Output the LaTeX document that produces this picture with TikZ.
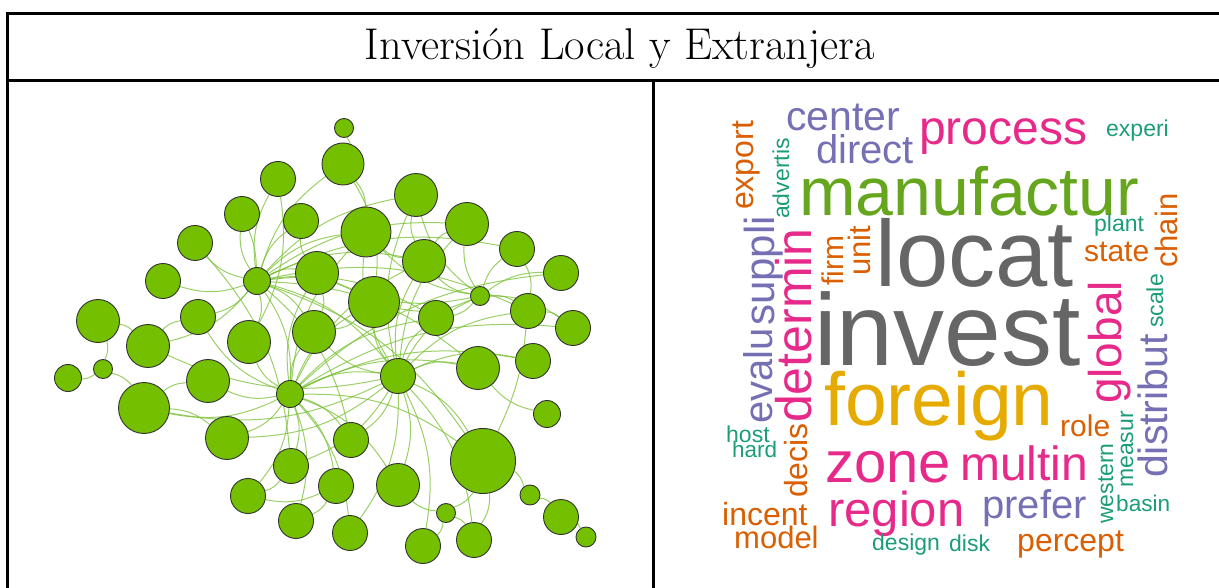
\documentclass[tikz,border=0pt]{standalone}
\usepackage{fontspec}
\usetikzlibrary{backgrounds}
\newfontfamily\cloudfont{Liberation Sans}

\definecolor{leaf}{RGB}{115,191,0}
\definecolor{twig}{RGB}{120,192,50}
\definecolor{dkgray}{HTML}{666666}
\definecolor{dkgreen}{HTML}{66A61E}
\definecolor{dkyellow}{HTML}{E6AB02}
\definecolor{dkpink}{HTML}{E7298A}
\definecolor{dkpurple}{HTML}{7570B3}
\definecolor{dkorange}{HTML}{D95F02}
\definecolor{dkteal}{HTML}{1B9E77}

\tikzset{
    bubble/.style={circle, draw=black!80, fill=leaf, line width=0.9pt, inner sep=0pt, minimum size=#1},
    tie/.style={draw=twig, line width=1pt, opacity=0.75, bend left=18},
    word/.style n args={2}{font=\cloudfont\fontsize{#1}{#1}\selectfont, text=#2, inner sep=0pt, anchor=base west},
}

\begin{document}
\begin{tikzpicture}[x=1pt, y=-1pt]
    \useasboundingbox (0,0) rectangle (1219,588);

    % Table frame
    \draw[line width=3pt] (6,13.5) -- (1230,13.5);
    \draw[line width=3pt] (7.5,12) -- (7.5,600);
    \draw[line width=3pt] (6,80.5) -- (1230,80.5);
    \draw[line width=3pt] (653.3,80.5) -- (653.3,600);
    \node[font=\fontsize{44.5}{52}\selectfont, anchor=base, inner sep=0pt] (title) at (620,60) {Inversión Local y Extranjera};

    % Network: nodes
    \node[bubble=19] (v1) at (344,128) {};
    \node[bubble=42] (v2) at (343,164) {};
    \node[bubble=35] (v3) at (278,179) {};
    \node[bubble=35] (v4) at (242,214) {};
    \node[bubble=35] (v5) at (301,221) {};
    \node[bubble=43] (v6) at (416,195) {};
    \node[bubble=50] (v7) at (366,232) {};
    \node[bubble=43] (v8) at (467,224) {};
    \node[bubble=35] (v9) at (195,243) {};
    \node[bubble=27] (v10) at (257,281) {};
    \node[bubble=43] (v11) at (317,273) {};
    \node[bubble=43] (v12) at (424,261) {};
    \node[bubble=35] (v13) at (517,249) {};
    \node[bubble=35] (v14) at (561,273) {};
    \node[bubble=35] (v15) at (163,281) {};
    \node[bubble=51] (v16) at (374,302) {};
    \node[bubble=19] (v17) at (480,296) {};
    \node[bubble=43] (v18) at (98,321) {};
    \node[bubble=35] (v19) at (198,317) {};
    \node[bubble=43] (v20) at (148,346) {};
    \node[bubble=43] (v21) at (249,342) {};
    \node[bubble=43] (v22) at (314,332) {};
    \node[bubble=35] (v23) at (436,318) {};
    \node[bubble=35] (v24) at (528,311) {};
    \node[bubble=35] (v25) at (573,328) {};
    \node[bubble=27] (v26) at (68,378) {};
    \node[bubble=19] (v27) at (103,369) {};
    \node[bubble=51] (v28) at (144,408) {};
    \node[bubble=43] (v29) at (208,381) {};
    \node[bubble=27] (v30) at (290,394) {};
    \node[bubble=35] (v31) at (398,376) {};
    \node[bubble=43] (v32) at (478,368) {};
    \node[bubble=35] (v33) at (533,361) {};
    \node[bubble=27] (v34) at (547,414) {};
    \node[bubble=43] (v35) at (227,438) {};
    \node[bubble=35] (v36) at (351,440) {};
    \node[bubble=65] (v37) at (483,461) {};
    \node[bubble=35] (v38) at (291,466) {};
    \node[bubble=35] (v39) at (336,486) {};
    \node[bubble=43] (v40) at (398,485) {};
    \node[bubble=35] (v41) at (248,496) {};
    \node[bubble=35] (v42) at (296,521) {};
    \node[bubble=35] (v43) at (350,533) {};
    \node[bubble=19] (v44) at (446,513) {};
    \node[bubble=35] (v45) at (423,546) {};
    \node[bubble=35] (v46) at (474,540) {};
    \node[bubble=20] (v47) at (530,495) {};
    \node[bubble=35] (v48) at (561,517) {};
    \node[bubble=20] (v49) at (586,537) {};

    % Network: links behind the nodes
    \begin{scope}[on background layer, every edge/.style={tie}]
        \draw (v10) edge (v4) edge[bend right=10] (v4) edge (v3) edge (v9) edge (v15) edge (v19)
            edge (v20) edge (v5) edge (v2) edge (v11) edge (v7) edge (v6) edge (v8)
            edge (v12) edge (v16) edge (v22) edge (v21) edge (v23) edge (v31) edge (v30)
            edge (v37) edge (v36) edge (v13) edge (v24) edge (v32);
        \draw (v30) edge (v29) edge (v28) edge (v35) edge (v38) edge (v21) edge (v22)
            edge (v16) edge (v12) edge (v31) edge (v37) edge (v36) edge (v39) edge (v41)
            edge (v32) edge (v23) edge (v11) edge (v7) edge (v19) edge (v40) edge (v42)
            edge (v43) edge (v14) edge (v25) edge (v33);
        \draw (v31) edge (v37) edge (v45) edge (v46) edge (v38) edge (v36) edge (v33)
            edge (v32) edge (v23) edge (v16) edge (v12) edge (v7) edge (v6) edge (v17)
            edge (v22) edge (v40) edge (v43) edge (v8) edge (v24) edge (v28) edge (v35)
            edge (v20);
        \draw (v17) edge (v13) edge (v14) edge (v24) edge (v25) edge (v12) edge (v16)
            edge (v23) edge (v7) edge (v8) edge (v6) edge (v11);
        \draw (v18) edge (v20) edge (v27);
        \draw (v27) edge (v26) edge (v28);
        \draw (v28) edge (v29) edge (v35);
        \draw (v20) edge (v19);
        \draw (v1) edge (v2);
        \draw (v37) edge (v47) edge (v44) edge (v46) edge[bend right=10] (v24);
        \draw (v47) edge (v48);
        \draw (v48) edge (v49);
        \draw (v44) edge (v45) edge (v46) edge (v40);
        \draw (v34) edge (v32);
        \draw (v39) edge (v41) edge (v42);
        \draw (v38) edge (v41);
        \draw (v12) edge (v6) edge (v8) edge (v7);
        \draw (v11) edge (v22) edge (v5);
        \draw (v13) edge (v24);
        \draw (v24) edge (v25);
        \draw (v16) edge (v22);
        \draw (v3) edge (v21);
        \draw (v9) edge (v38);
        \draw (v2) edge (v7) edge (v16);
    \end{scope}

    % Word cloud
    \node[word={41}{dkpurple}] (center) at (786,131) {center};
    \node[word={40}{dkpurple}] (direct) at (816,164) {direct};
    \node[word={48}{dkpink}] (process) at (919,145) {process};
    \node[word={23}{dkteal}] (experi) at (1106,137) {experi};
    \node[word={68}{dkgreen}] (manufactur) at (799,216) {manufactur};
    \node[word={23}{dkteal}] (plant) at (1094,232) {plant};
    \node[word={30}{dkorange}] (state) at (1084,262) {state};
    \node[word={94}{dkgray}] (locat) at (875,287) {locat};
    \node[word={102}{dkgray}] (invest) at (814,365) {invest};
    \node[word={75}{dkyellow}] (foreign) at (824,425) {foreign};
    \node[word={58}{dkpink}] (zone) at (825,482) {zone};
    \node[word={49}{dkpink}] (region) at (828,526) {region};
    \node[word={48}{dkpink}] (multin) at (960,480) {multin};
    \node[word={30}{dkorange}] (role) at (1060,436) {role};
    \node[word={40}{dkpurple}] (prefer) at (982,518) {prefer};
    \node[word={22.6}{dkteal}] (basin) at (1116,511) {basin};
    \node[word={32}{dkorange}] (percept) at (1017,551) {percept};
    \node[word={23}{dkteal}] (disk) at (949,551) {disk};
    \node[word={23}{dkteal}] (design) at (872,550) {design};
    \node[word={23}{dkteal}] (host) at (726,442) {host};
    \node[word={22.5}{dkteal}] (hard) at (732,457) {hard};
    \node[word={32}{dkorange}] (incent) at (722,525) {incent};
    \node[word={31}{dkorange}] (model) at (734,548) {model};
    % vertical words
    \node[word={32}{dkorange}, rotate=90] (export) at (753,210) {export};
    \node[word={23}{dkteal}, rotate=90] (advertis) at (789,219) {advertis};
    \node[word={42}{dkpurple}, rotate=90] (suppli) at (774,326) {suppli};
    \node[word={40}{dkpurple}, rotate=90] (evalu) at (772,424) {evalu};
    \node[word={50}{dkpink}, rotate=90] (determin) at (811,423) {determin};
    \node[word={30}{dkorange}, rotate=90] (firm) at (843,286) {firm};
    \node[word={31}{dkorange}, rotate=90] (unit) at (870,276) {unit};
    \node[word={31}{dkorange}, rotate=90] (chain) at (1177,268) {chain};
    \node[word={46}{dkpink}, rotate=90] (global) at (1121,404) {global};
    \node[word={23}{dkteal}, rotate=90] (scale) at (1163,328) {scale};
    \node[word={41}{dkpurple}, rotate=90] (distribut) at (1167,478) {distribut};
    \node[word={23}{dkteal}, rotate=90] (measur) at (1133,488) {measur};
    \node[word={23}{dkteal}, rotate=90] (western) at (1113,524) {western};
    \node[word={32}{dkorange}, rotate=90] (decis) at (807,498) {decis};
\end{tikzpicture}
\end{document}
